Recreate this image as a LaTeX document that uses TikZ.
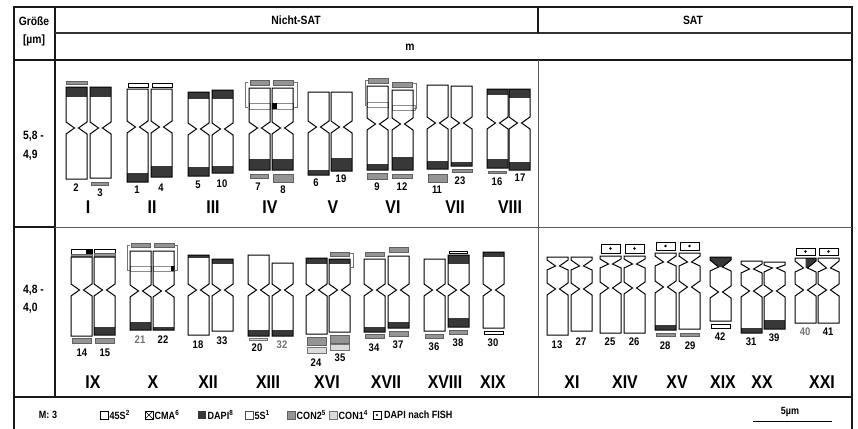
\documentclass[tikz,border=0pt]{standalone}
\usepackage{fontspec}
\setmainfont{Liberation Sans}[FakeStretch=0.86]
\newcommand\Mbody[4]{\fill[white] (#1,#2) -- (#1+21,#2) -- (#1+21,#4-6) -- (#1+12.5,#4) -- (#1+21,#4+6) -- (#1+21,#3) -- (#1,#3) -- (#1,#4+6) -- (#1+8.5,#4) -- (#1,#4-6) -- cycle;}
\newcommand\Mline[4]{\draw[cl] (#1,#2) -- (#1+21,#2) -- (#1+21,#4-6) -- (#1+12.5,#4) -- (#1+21,#4+6) -- (#1+21,#3) -- (#1,#3) -- (#1,#4+6) -- (#1+8.5,#4) -- (#1,#4-6) -- cycle;}
\newcommand\M[5]{\Mbody{#1}{#2}{#3}{#4}#5\Mline{#1}{#2}{#3}{#4}}
\newcommand\SatPath[5]{(#1,#2) -- (#1+21,#2) -- (#1+21,#2+3) -- (#1+12.5,#3) -- (#1+21,#3+4) -- (#1+21,#4-6) -- (#1+12.5,#4) -- (#1+21,#4+6) -- (#1+21,#5) -- (#1,#5) -- (#1,#4+6) -- (#1+8.5,#4) -- (#1,#4-6) -- (#1,#3+4) -- (#1+8.5,#3) -- (#1,#2+3) -- cycle}
\newcommand\Sat[6]{\fill[white] \SatPath{#1}{#2}{#3}{#4}{#5}; #6\draw[cl] \SatPath{#1}{#2}{#3}{#4}{#5};}
\newcommand\bd[3]{\fill[dapi] (#1,#2) rectangle (#1+21,#3);}
\newcommand\fishbox[4]{\draw[fish] (#1,#2) rectangle (#3,#4); \fill ({(#1+#3)/2},{(#2+#4)/2}) circle (1.3);}
\newcommand\nl[3]{\node[num] (n#3) at (#1,#2) {#3};}
\newcommand\nlg[3]{\node[num,text=black!55] (n#3) at (#1,#2) {#3};}
\begin{document}
\begin{tikzpicture}[x=1pt,y=-1pt,
  cl/.style={draw=black, line width=1.0pt, line join=miter},
  dapi/.style={fill=black!78},
  con2/.style={fill=black!42, draw=black!62, line width=0.6pt},
  con1/.style={fill=black!14, draw=black!55, line width=0.6pt},
  wbar/.style={fill=white, draw=black, line width=0.7pt},
  wband/.style={fill=white, draw=black!45, line width=0.8pt},
  brk/.style={draw=black!55, line width=0.8pt},
  fish/.style={fill=white, draw=black, line width=0.7pt},
  num/.style={font=\bfseries\fontsize{11}{13}\selectfont, inner sep=0pt},
  rom/.style={font=\bfseries\fontsize{18.5}{22}\selectfont, inner sep=0pt},
  hdr/.style={font=\bfseries\fontsize{12}{14}\selectfont, inner sep=0pt},
  leg/.style={font=\bfseries\fontsize{10.5}{12}\selectfont, inner sep=0pt, anchor=west},
  frame/.style={line width=2.6pt, draw=black!90},
  midline/.style={line width=1.8pt, draw=black!80},
  thinline/.style={line width=0.8pt, draw=black!65},
  lbox/.style={draw=black, line width=0.6pt}]
\useasboundingbox (0,0) rectangle (858,428);
\fill[white] (0,0) rectangle (858,428);
% ---------- table ----------
\draw[frame] (14,430) -- (14,7) -- (852,7) -- (852,430);
\draw[frame] (55,7) -- (55,397);
\draw[midline] (55,33) -- (852,33);
\draw[frame] (14,60) -- (852,60);
\draw[frame] (14,227) -- (55,227);
\draw[thinline] (55,227) -- (852,227);
\draw[frame] (538,7) -- (538,33);
\draw[thinline] (538,60) -- (538,397);
\draw[frame] (14,397) -- (852,397);
% header texts
\node[hdr] (g1) at (34,21) {Größe};
\node[hdr] (g2) at (34,40) {[µm]};
\node[hdr] (hns) at (296,20) {Nicht-SAT};
\node[hdr] (hs) at (693,20) {SAT};
\node[hdr] (hm) at (410,47) {m};
\node[hdr,anchor=west] (s1a) at (23,136) {5,8 -};
\node[hdr,anchor=west] (s1b) at (23,155) {4,9};
\node[hdr,anchor=west] (s2a) at (23,290) {4,8 -};
\node[hdr,anchor=west] (s2b) at (23,308) {4,0};
% ---------- row 1 ----------
% I
\M{66}{87}{179}{128}{\bd{66}{87}{97}}
\draw[con2] (66,81) rectangle (87,84);
\M{90}{87}{178}{128}{\bd{90}{87}{97}}
\draw[con2] (91,182) rectangle (108,185);
% II
\draw[wbar] (128,83) rectangle (148,87);
\draw[wbar] (152,83) rectangle (172,87);
\M{127}{89}{182}{127}{\bd{127}{173}{182}}
\M{151}{89}{177}{127}{\bd{151}{166}{177}}
% III
\M{188}{92}{176}{129}{\bd{188}{92}{99}\bd{188}{167}{176}}
\M{212}{90}{173}{129}{\bd{212}{90}{99}\bd{212}{166}{173}}
% IV
\draw[con2] (250,80) rectangle (269,85);
\draw[con2] (273,80) rectangle (293,85);
\M{249}{88}{170}{128}{\draw[wband] (249,103) rectangle (270,109); \bd{249}{159}{170}}
\M{272}{88}{170}{128}{\draw[wband] (272,103) rectangle (293,109); \fill (272,103) rectangle (277,109); \bd{272}{159}{170}}
\draw[con2] (250,174) rectangle (268,178);
\draw[con2] (273,174) rectangle (293,182);
\draw[brk] (248,82) -- (245,82) -- (245,107) -- (248,107);
\draw[brk] (294,82) -- (297,82) -- (297,107) -- (294,107);
% V
\M{308}{92}{175}{127}{\bd{308}{170}{175}}
\M{331}{92}{171}{127}{\bd{331}{158}{171}}
% VI
\draw[con2] (368,78) rectangle (388,83);
\draw[con2] (392,82) rectangle (412,87);
\M{367}{86}{170}{124}{\draw[wband] (367,102) rectangle (388,107); \bd{367}{164}{170}}
\M{392}{90}{170}{124}{\draw[wband] (392,105) rectangle (415,110); \bd{392}{157}{170}}
\draw[con2] (367,173) rectangle (387,179);
\draw[con2] (392,174) rectangle (412,178);
\draw[brk] (368,80) -- (365,80) -- (365,105) -- (368,105);
\draw[brk] (413,83) -- (416,83) -- (416,108) -- (413,108);
% VII
\M{427}{85}{169}{123}{\bd{427}{161}{169}}
\M{451}{86}{166}{123}{\bd{451}{162}{166}}
\draw[con2] (428,174) rectangle (447,182);
\draw[con2] (452,169) rectangle (472,172);
% VIII
\M{487}{89}{168}{123}{\bd{487}{89}{95}\bd{487}{159}{168}}
\M{509}{89}{170}{123}{\bd{509}{89}{98}\bd{509}{162}{170}}
\draw[con2] (488,171) rectangle (506,173);
% numbers row 1
\nl{76}{188}{2} \nl{100}{193}{3} \nl{137}{190}{1} \nl{161}{188}{4}
\nl{198}{185}{5} \nl{222}{184}{10} \nl{258}{187}{7} \nl{283}{190}{8}
\nl{316}{183}{6} \nl{341}{179}{19} \nl{377}{187}{9} \nl{402}{187}{12}
\nl{437}{190}{11} \nl{460}{181}{23} \nl{497}{182}{16} \nl{520}{178}{17}
% roman row 1
\node[rom] (rI) at (88,207) {I};
\node[rom] (rII) at (152,207) {II};
\node[rom] (rIII) at (213,207) {III};
\node[rom] (rIV) at (270,207) {IV};
\node[rom] (rV) at (333,207) {V};
\node[rom] (rVI) at (393,207) {VI};
\node[rom] (rVII) at (455,207) {VII};
\node[rom] (rVIII) at (510,207) {VIII};
% ---------- row 2 ----------
% IX
\draw[wbar] (71,249) rectangle (92,254); \fill (86,249) rectangle (92,254);
\draw[con2] (71,254) rectangle (92,256);
\draw[wbar] (94,249) rectangle (115,253);
\draw[con2] (94,253) rectangle (115,256);
\M{71}{257}{336}{290}{}
\M{94}{257}{335}{290}{\bd{94}{327}{335}}
\draw[con2] (72,338) rectangle (91,343);
\draw[con2] (95,338) rectangle (114,343);
% X
\draw[con2] (131,243) rectangle (150,247);
\draw[con2] (154,243) rectangle (174,247);
\M{130}{251}{330}{291}{\draw[wband] (130,266) rectangle (151,271); \bd{130}{322}{330}}
\M{153}{251}{330}{291}{\draw[wband] (153,266) rectangle (174,271); \fill (171,266) rectangle (174,271); \bd{153}{327}{330}}
\draw[brk] (130,245) -- (127,245) -- (127,270) -- (130,270);
\draw[brk] (174,245) -- (177,245) -- (177,270) -- (174,270);
% XII
\M{188}{255}{335}{290}{\bd{188}{255}{258}}
\M{212}{259}{331}{290}{\bd{212}{259}{264}}
% XIII
\M{248}{255}{336}{290}{\bd{248}{330}{336}}
\M{272}{263}{336}{290}{\bd{272}{330}{336}}
\draw[con1] (249,338) rectangle (267,340);
% XVI
\M{306}{258}{334}{290}{\bd{306}{258}{264}}
\M{329}{259}{332}{290}{\bd{329}{259}{264}}
\draw[con2] (307,337) rectangle (326,345);
\draw[con1] (307,347) rectangle (326,353);
\draw[con2] (330,252) rectangle (349,256);
\draw[con2] (330,335) rectangle (349,343);
\draw[con1] (330,344) rectangle (349,350);
\draw[brk] (350,253) -- (353,253) -- (353,267) -- (350,267);
% XVII
\draw[con2] (365,252) rectangle (384,256);
\M{364}{259}{332}{290}{\bd{364}{327}{332}}
\draw[con2] (365,334) rectangle (384,338);
\draw[con2] (389,247) rectangle (408,252);
\M{388}{256}{328}{290}{\bd{388}{322}{328}}
\draw[con2] (389,331) rectangle (408,336);
% XVIII
\M{424}{259}{331}{290}{}
\draw[con2] (425,334) rectangle (443,338);
\draw[wbar] (449,251) rectangle (467,253);
\M{448}{255}{327}{290}{\bd{448}{255}{264}\bd{448}{318}{327}}
\draw[con2] (449,330) rectangle (467,334);
% XIX
\M{483}{252}{328}{290}{\bd{483}{252}{257}}
\draw[wbar] (484,331) rectangle (503,334);
% ---------- SAT ----------
% XI
\Sat{547}{257}{266}{289}{335}{}
\Sat{571}{257}{266}{289}{331}{}
% XIV
\fishbox{601}{244}{620}{253}
\fishbox{625}{244}{644}{253}
\Sat{600}{256}{264}{288}{333}{}
\Sat{624}{256}{264}{288}{333}{}
% XV
\fishbox{656}{242}{675}{250}
\fishbox{680}{242}{699}{250}
\Sat{655}{253}{262}{287}{330}{\bd{655}{325}{330}}
\Sat{679}{253}{262}{287}{329}{}
\draw[con2] (656,333) rectangle (675,336);
\draw[con2] (680,333) rectangle (699,336);
% XIX
\Sat{710}{257}{267}{292}{321}{\fill[dapi] (710,257) -- (731,257) -- (731,260) -- (722.5,267) -- (718.5,267) -- (710,260) -- cycle;}
\draw[wbar] (711,324) rectangle (730,328);
% XX
\Sat{741}{261}{269}{291}{333}{\bd{741}{328}{333}}
\Sat{764}{262}{268}{291}{329}{\bd{764}{320}{329}}
% XXI
\fishbox{796}{248}{815}{255}
\fishbox{819}{248}{838}{255}
\Sat{795}{258}{268}{290}{323}{\fill[dapi] (805.5,258) -- (816,258) -- (816,261) -- (807.5,268) -- (805.5,268) -- cycle;}
\Sat{818}{258}{268}{290}{323}{}
% numbers row 2
\nl{82}{353}{14} \nl{105}{353}{15} \nlg{140}{340}{21} \nl{163}{340}{22}
\nl{198}{345}{18} \nl{222}{341}{33} \nl{257}{348}{20} \nlg{282}{345}{32}
\nl{316}{363}{24} \nl{340}{358}{35} \nl{374}{348}{34} \nl{398}{345}{37}
\nl{434}{347}{36} \nl{458}{343}{38} \nl{493}{343}{30}
\nl{557}{345}{13} \nl{581}{342}{27} \nl{610}{342}{25} \nl{634}{342}{26}
\nl{665}{346}{28} \nl{690}{346}{29} \nl{720}{337}{42} \nl{751}{342}{31}
\nl{774}{338}{39} \nlg{805}{332}{40} \nl{828}{332}{41}
% roman row 2
\node[rom] (rIX) at (93,382) {IX};
\node[rom] (rX) at (153,382) {X};
\node[rom] (rXII) at (208,382) {XII};
\node[rom] (rXIII) at (268,382) {XIII};
\node[rom] (rXVI) at (327,382) {XVI};
\node[rom] (rXVII) at (386,382) {XVII};
\node[rom] (rXVIII) at (445,382) {XVIII};
\node[rom] (rXIXa) at (493,382) {XIX};
\node[rom] (rXI) at (572,382) {XI};
\node[rom] (rXIV) at (625,382) {XIV};
\node[rom] (rXV) at (677,382) {XV};
\node[rom] (rXIXb) at (723,382) {XIX};
\node[rom] (rXX) at (762,382) {XX};
\node[rom] (rXXI) at (822,382) {XXI};
% ---------- legend ----------
\node[leg,anchor=center] (lm) at (48,415) {M: 3};
\draw[lbox] (100,411) rectangle (108,419);
\node[leg] (l1) at (109.5,415) {45S\textsuperscript{2}};
\draw[lbox] (145,411) rectangle (153,419);
\draw[lbox] (145,411) -- (153,419) (145,419) -- (153,411);
\node[leg] (l2) at (154.5,415) {CMA\textsuperscript{6}};
\fill[dapi] (198,411) rectangle (206,419);
\node[leg] (l3) at (207.5,415) {DAPI\textsuperscript{8}};
\draw[lbox,draw=black!70] (245,411) rectangle (253,419);
\node[leg] (l4) at (254.5,415) {5S\textsuperscript{1}};
\draw[con2] (287,411) rectangle (295,419);
\node[leg] (l5) at (296.5,415) {CON2\textsuperscript{5}};
\draw[con1] (329,411) rectangle (337,419);
\node[leg] (l6) at (338.5,415) {CON1\textsuperscript{4}};
\draw[lbox] (373,411) rectangle (381,419);
\fill (377,415) circle (1.2);
\node[leg] (l7) at (384,415) {DAPI nach FISH};
\coordinate (sbA) at (753,421);
\coordinate (sbB) at (832,421);
\draw[line width=0.9pt] (sbA) -- (sbB);
\node[leg,anchor=center] (sbt) at (790,412) {5µm};
\end{tikzpicture}
\end{document}
